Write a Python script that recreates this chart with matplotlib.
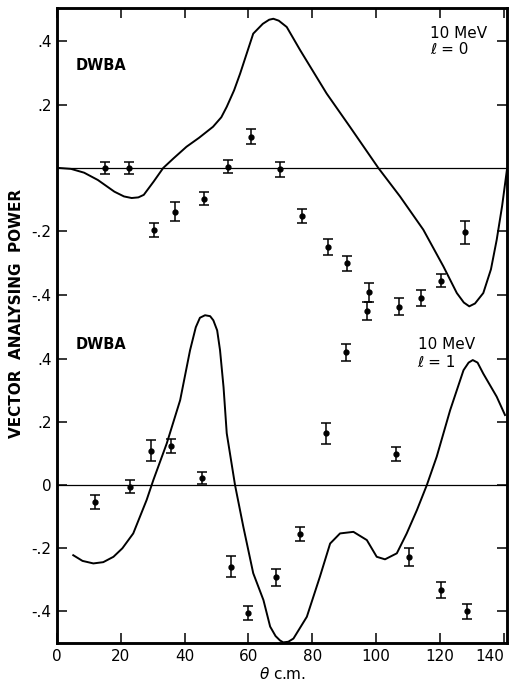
import matplotlib.pyplot as plt

# ---- upper panel: 10 MeV, l = 0 ----
theta_l0 = [15.1, 22.5, 30.4, 37.0, 46.0, 53.6, 60.9, 69.9, 76.9, 85.0,
            90.9, 97.7, 97.0, 107.2, 114.0, 120.3, 128.0]
ap_l0 = [0.00, 0.00, -0.197, -0.138, -0.097, 0.004, 0.099, -0.004, -0.153, -0.250,
         -0.301, -0.393, -0.452, -0.438, -0.410, -0.356, -0.203]
err_l0 = [0.020, 0.020, 0.022, 0.031, 0.020, 0.020, 0.025, 0.024, 0.022, 0.025,
          0.024, 0.029, 0.028, 0.026, 0.026, 0.021, 0.037]

dwba_th_l0 = [0.5, 4.4, 8.5, 12.8, 18.0, 21.0, 23.4, 25.5, 27.2, 30.3, 33.3, 36.5,
              40.6, 44.5, 48.9, 51.5, 53.2, 55.5, 57.4, 61.5, 64.5, 66.5, 67.8, 69.5,
              72.0, 76.2, 84.5, 91.8, 100.7, 107.5, 114.8, 121.1, 125.3, 127.5, 129.2,
              131.0, 133.6, 136.0, 137.8, 139.5, 141.0]
dwba_ap_l0 = [0.0, -0.003, -0.015, -0.038, -0.075, -0.090, -0.095, -0.093, -0.085,
              -0.043, 0.000, 0.030, 0.067, 0.095, 0.130, 0.160, 0.193, 0.245, 0.298,
              0.424, 0.455, 0.468, 0.471, 0.465, 0.445, 0.372, 0.235, 0.130, 0.000,
              -0.090, -0.195, -0.311, -0.395, -0.425, -0.437, -0.428, -0.395, -0.320,
              -0.227, -0.120, -0.006]

# ---- lower panel: 10 MeV, l = 1 ----
theta_l1 = [11.9, 22.8, 29.5, 35.6, 45.5, 54.5, 59.8, 68.6, 76.3, 84.2,
            90.7, 106.2, 110.4, 120.2, 128.6]
ap_l1 = [-0.053, -0.005, 0.109, 0.124, 0.024, -0.258, -0.404, -0.292, -0.155, 0.164,
         0.420, 0.098, -0.227, -0.332, -0.400]
err_l1 = [0.022, 0.020, 0.034, 0.021, 0.019, 0.032, 0.022, 0.026, 0.022, 0.034,
          0.026, 0.023, 0.029, 0.024, 0.025]

dwba_th_l1 = [5.1, 8.0, 11.4, 14.5, 17.7, 20.5, 23.9, 28.1, 30.2, 34.4, 38.6, 41.7,
              43.5, 44.8, 46.4, 48.0, 49.0, 50.2, 51.1, 52.2, 53.2, 55.8, 58.4, 61.5,
              64.7, 66.8, 68.5, 69.9, 70.9, 72.5, 74.1, 78.3, 82.4, 85.6, 88.7, 92.9,
              97.1, 100.2, 102.8, 106.5, 109.6, 112.8, 115.9, 119.0, 123.2, 127.4,
              129.0, 130.3, 131.8, 133.6, 137.8, 140.4]
dwba_ap_l1 = [-0.222, -0.240, -0.248, -0.244, -0.227, -0.200, -0.153, -0.047, 0.016,
              0.132, 0.269, 0.427, 0.500, 0.530, 0.538, 0.535, 0.522, 0.490, 0.427,
              0.310, 0.164, 0.000, -0.132, -0.279, -0.364, -0.448, -0.478, -0.492,
              -0.498, -0.496, -0.486, -0.417, -0.290, -0.185, -0.153, -0.148, -0.174,
              -0.227, -0.235, -0.216, -0.153, -0.079, 0.000, 0.090, 0.237, 0.364,
              0.388, 0.396, 0.388, 0.353, 0.280, 0.222]

plt.rcParams["font.family"] = ["DejaVu Sans"]

fig = plt.figure(figsize=(5.11, 6.81), dpi=100)
rect = [0.1115, 0.0558, 0.8805, 0.932]
ax = fig.add_axes(rect)        # lower panel owns the frame and x axis
ax2 = fig.add_axes(rect)       # upper panel, transparent overlay
ax2.patch.set_visible(False)

# lower panel
ax.axhline(0, color="black", lw=0.9)
ax.plot(dwba_th_l1, dwba_ap_l1, color="black", lw=1.4)
ax.errorbar(theta_l1, ap_l1, yerr=err_l1, fmt="o", color="black", ms=3.5,
            elinewidth=1.1, capsize=3.5, capthick=1.1)

# upper panel
ax2.axhline(0, color="black", lw=0.9)
ax2.plot(dwba_th_l0, dwba_ap_l0, color="black", lw=1.4)
ax2.errorbar(theta_l0, ap_l0, yerr=err_l0, fmt="o", color="black", ms=3.5,
             elinewidth=1.1, capsize=3.5, capthick=1.1)

# ticks
ax.set_xticks([0, 20, 40, 60, 80, 100, 120, 140])
ax.set_xticklabels(["0", "20", "40", "60", "80", "100", "120", "140"])
ax.set_yticks([-0.4, -0.2, 0, 0.2, 0.4])
ax.set_yticklabels(["-.4", "-.2", "0", ".2", ".4"])
ax.tick_params(direction="in", length=7, width=1.1, top=True, right=True,
               labelsize=11, pad=4)
ax2.set_xticks([])
ax2.set_yticks([-0.4, -0.2, 0.2, 0.4])
ax2.set_yticklabels(["-.4", "-.2", ".2", ".4"])
ax2.tick_params(direction="in", length=7, width=1.1, right=True,
                labelsize=11, pad=4)
for a in (ax, ax2):
    for s in a.spines.values():
        s.set_linewidth(1.8)

# limits last so nothing rescales them
ax.set_xlim(0, 141)
ax.set_ylim(-0.5, 1.51)
ax2.set_xlim(0, 141)
ax2.set_ylim(-1.5, 0.504)
ax.get_xticklabels()[-1].set_horizontalalignment("right")

# labels
ax2.text(6, 0.31, "DWBA", fontsize=10.5, weight="bold")
ax2.text(117, 0.41, "10 MeV", fontsize=11)
ax2.text(117, 0.36, "ℓ = 0", fontsize=11)
ax.text(6, 0.43, "DWBA", fontsize=10.5, weight="bold")
ax.text(113, 0.43, "10 MeV", fontsize=11)
ax.text(113, 0.375, "ℓ = 1", fontsize=11)

ax.set_ylabel("VECTOR  ANALYSING  POWER", fontsize=11, weight="bold")
ax.yaxis.set_label_coords(-0.074, 0.52)
ax.set_xlabel(r"$\theta$ c.m.", fontsize=11, labelpad=2)

fig.savefig("out.png", dpi=100)
